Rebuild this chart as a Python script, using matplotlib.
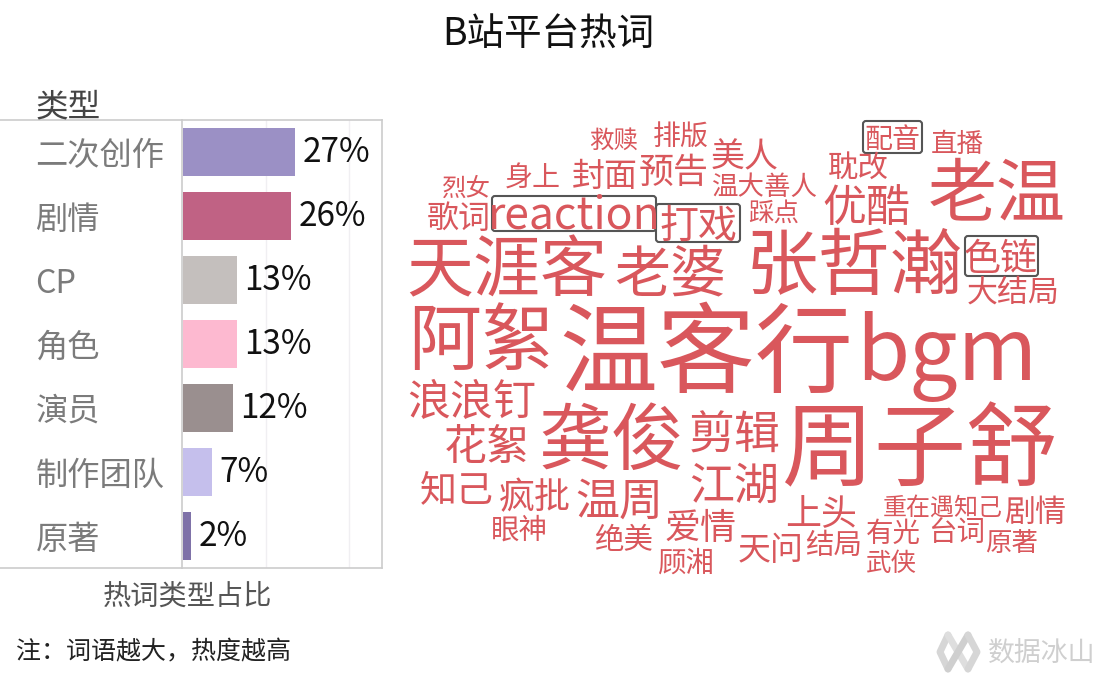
import matplotlib
matplotlib.use('Agg')
import matplotlib.pyplot as plt
from matplotlib.patches import FancyBboxPatch

plt.rcParams['font.family'] = ['Noto Sans CJK SC', 'DejaVu Sans']

# bar chart data
categories = ['二次创作', '剧情', 'CP', '角色', '演员', '制作团队', '原著']
shares = [27, 26, 13, 13, 12, 7, 2]
share_labels = ['27%', '26%', '13%', '13%', '12%', '7%', '2%']
bar_colors = ['#9b90c5', '#c06284', '#c4bfbd', '#fdb9d0', '#9a8f8f', '#c5bfec', '#7f72a8']

# word cloud: word and font height in px
words = ['温客行', 'bgm', '周子舒', '张哲瀚', '天涯客', '老婆', '阿絮', '老温', '龚俊', '剪辑',
         '江湖', '浪浪钉', '花絮', '知己', '疯批', '温周', '爱情', '眼神', '绝美', '顾湘',
         '天问', '结局', '上头', '有光', '武侠', '台词', '原著', '重在遇知己', '剧情', '大结局',
         '色链', '优酷', '耽改', '配音', '直播', '美人', '温大善人', '踩点', '预告', '封面',
         '身上', '救赎', '排版', '烈女', '歌词', 'reaction', '打戏']
word_sizes = [98, 86, 92, 72.5, 67, 56, 73, 69, 73, 46,
              45, 43, 43, 37, 36, 44, 36, 28.5, 29.5, 28.5,
              33, 28.5, 36, 27.5, 25.5, 28.5, 26.5, 24, 31, 31,
              37, 44, 30.5, 28, 26.5, 34, 26.5, 25.5, 35, 33,
              28, 24.5, 28, 24.5, 32, 44.5, 39]

# layout of the cloud in image pixels, same order as words
word_x = [706, 947, 920, 854, 507, 670, 481, 997, 611, 735,
          734, 472, 487, 457, 535, 619, 700, 519, 624, 686,
          771, 834, 821, 893, 891, 957, 1012, 943, 1035, 1013,
          1001, 866, 858, 892, 957, 745, 765, 774, 674, 605,
          533, 614, 681, 466, 459, 574, 698]
word_y = [350, 350, 447, 263, 267, 271, 338, 190, 438, 432,
          483, 399, 444, 487, 495, 498, 526, 528, 537, 561,
          547, 543, 512, 531, 561, 530, 541, 505, 510, 290,
          256, 204, 165, 137, 141, 155, 185, 211, 170, 173,
          176, 138, 134, 186, 216, 212, 223]
box_extents = [(965, 236, 1038, 276), (863, 121, 922, 153),
               (492, 196, 656, 231), (656, 204, 740, 242)]

WORD_COLOR = '#d9575c'

W, H = 1097, 682
fig = plt.figure(figsize=(W / 100, H / 100), dpi=100, facecolor='white')

# overlay working in image pixels
bg = fig.add_axes([0, 0, 1, 1])
bg.set_xlim(0, W)
bg.set_ylim(H, 0)
bg.axis('off')

# bars
ax = fig.add_axes([182 / W, 1 - 568 / H, 200 / W, 448 / H])
ypos = list(range(len(categories)))
bars = ax.barh(ypos, shares, height=0.75, color=bar_colors)
ax.set_xlim(-0.2, 48)
ax.set_ylim(len(categories) - 0.5, -0.5)
ax.set_xticks([20, 40])
ax.tick_params(axis='x', length=0, labelbottom=False)
ax.grid(axis='x', color='#f0eff2', linewidth=1)
ax.set_axisbelow(True)
ax.set_yticks(ypos)
ax.set_yticklabels(categories, fontsize=23.2, color='#7b7b7b', ha='left')
ax.tick_params(axis='y', length=0, pad=105.5)
for s in ax.spines.values():
    s.set_color('#cccccc')
    s.set_linewidth(1.2)
ax.bar_label(bars, labels=share_labels, padding=5.5, fontsize=24, color='#111111')

bg.plot([0, 182], [120, 120], color='#cccccc', lw=1.2)
bg.plot([0, 182], [568, 568], color='#cccccc', lw=1.2)

# headings and notes
bg.text(548, 34, 'B站平台热词', fontsize=27, color='#111111', ha='center', va='center')
bg.text(36, 107, '类型', fontsize=23.5, color='#444444', ha='left', va='center')
bg.text(188, 597, '热词类型占比', fontsize=20.3, color='#555555', ha='center', va='center')
bg.text(16, 652, '注：词语越大，热度越高', fontsize=18, color='#222222', ha='left', va='center')

# word cloud, nudged down because CJK glyphs sit high in their line box
for word, size, x, y in zip(words, word_sizes, word_x, word_y):
    bg.text(x, y + 1.5 + size * 0.055, word, fontsize=size * 0.72, color=WORD_COLOR,
            ha='center', va='center', fontweight='light')

for x0, y0, x1, y1 in box_extents:
    bg.add_patch(FancyBboxPatch((x0 + 3, y0 + 3), x1 - x0 - 6, y1 - y0 - 6,
                                boxstyle='round,pad=3', fc='none', ec='#555555', lw=1.5))

# watermark logo
bg.plot([948, 940, 948], [635, 652, 669], color='#d6d6d6', lw=5, solid_capstyle='round')
bg.plot([948, 958, 968], [635, 652, 669], color='#dedede', lw=5, solid_capstyle='round')
bg.plot([948, 958, 968], [669, 652, 635], color='#cfcfcf', lw=5, solid_capstyle='round')
bg.plot([968, 977, 968], [635, 652, 669], color='#d6d6d6', lw=5, solid_capstyle='round')
bg.text(988, 653, '数据冰山', fontsize=19.4, color='#cfcfcf', ha='left', va='center')

fig.savefig('out.png', dpi=100, facecolor='white')
